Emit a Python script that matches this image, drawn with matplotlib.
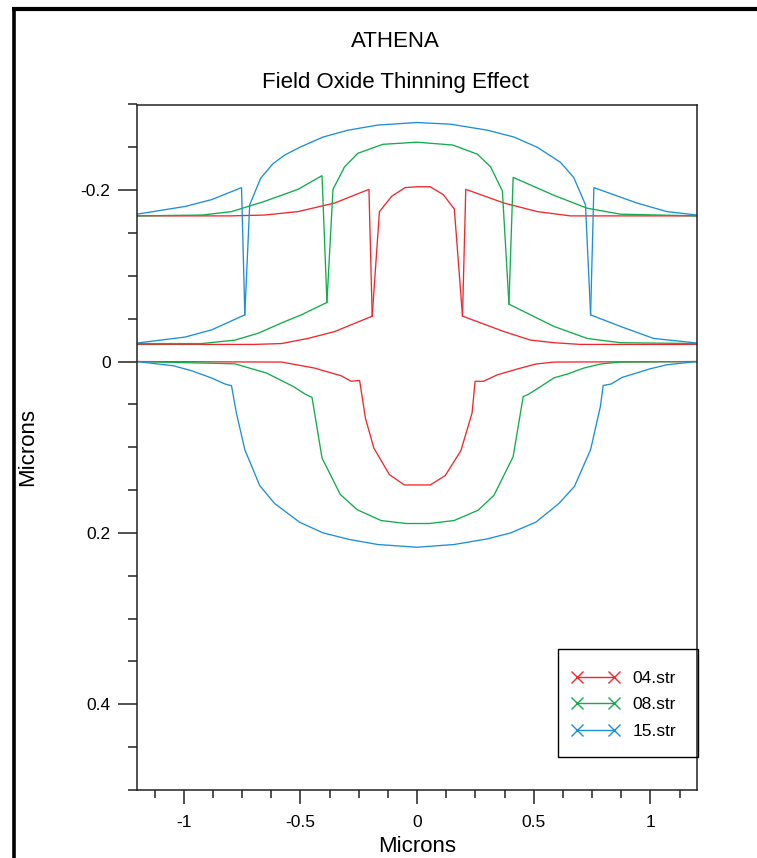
import matplotlib
matplotlib.use("Agg")
import matplotlib.pyplot as plt
from matplotlib.lines import Line2D
from matplotlib.patches import Rectangle
from matplotlib.ticker import MultipleLocator, FuncFormatter

plt.rcParams['font.family'] = ['Liberation Sans', 'DejaVu Sans']

# ---------------- data (microns) ----------------
labels = ["04.str", "08.str", "15.str"]
colors = ["#f0282d", "#10ad4a", "#1c8fd9"]

# 04.str
r_nitL_x = [-1.2, -0.8, -0.653, -0.51, -0.353, -0.206, -0.192, -0.353, -0.467, -0.581, -0.7, -1.2]
r_nitL_y = [-0.170, -0.170, -0.171, -0.175, -0.185, -0.201, -0.053, -0.035, -0.027, -0.021, -0.020, -0.020]
r_nitR_x = [1.2, 0.8, 0.658, 0.516, 0.373, 0.209, 0.195, 0.373, 0.487, 0.587, 0.7, 1.2]
r_nitR_y = [-0.170, -0.170, -0.170, -0.175, -0.185, -0.201, -0.053, -0.035, -0.025, -0.022, -0.020, -0.020]
r_oxtop_x = [-0.192, -0.161, -0.108, -0.051, 0.0, 0.056, 0.112, 0.160, 0.195]
r_oxtop_y = [-0.053, -0.175, -0.193, -0.203, -0.204, -0.204, -0.195, -0.178, -0.053]
r_si_x = [-1.2, -0.58, -0.439, -0.325, -0.282, -0.246, -0.221, -0.185, -0.118, -0.054, 0.057,
          0.121, 0.188, 0.236, 0.249, 0.285, 0.345, 0.430, 0.509, 0.587, 1.2]
r_si_y = [0.0, 0.0006, 0.0076, 0.0166, 0.023, 0.022, 0.066, 0.101, 0.132, 0.144, 0.144,
          0.133, 0.104, 0.060, 0.023, 0.023, 0.0154, 0.0087, 0.0029, 0.0006, 0.0]

# 08.str
g_nitL_x = [-1.2, -0.92, -0.795, -0.653, -0.51, -0.407, -0.386, -0.496, -0.581, -0.681, -0.781, -0.923, -1.2]
g_nitL_y = [-0.170, -0.171, -0.175, -0.187, -0.201, -0.217, -0.069, -0.0545, -0.045, -0.033, -0.025, -0.021, -0.021]
g_nitR_x = [1.2, 0.872, 0.729, 0.587, 0.412, 0.394, 0.587, 0.729, 0.872, 1.2]
g_nitR_y = [-0.170, -0.172, -0.179, -0.194, -0.215, -0.067, -0.041, -0.027, -0.022, -0.021]
g_oxtop_x = [-0.386, -0.360, -0.311, -0.254, -0.147, 0.0, 0.153, 0.259, 0.316, 0.366, 0.394]
g_oxtop_y = [-0.069, -0.201, -0.227, -0.243, -0.2535, -0.256, -0.2527, -0.242, -0.227, -0.199, -0.067]
g_si_x = [-1.2, -0.781, -0.645, -0.531, -0.479, -0.450, -0.407, -0.329, -0.256, -0.154, -0.047, 0.053,
          0.159, 0.262, 0.330, 0.412, 0.455, 0.479, 0.531, 0.587, 0.644, 0.715, 0.786, 0.87, 1.2]
g_si_y = [0.0, 0.0026, 0.0134, 0.029, 0.038, 0.0418, 0.1125, 0.155, 0.173, 0.1855, 0.189, 0.189,
          0.1855, 0.1735, 0.156, 0.111, 0.041, 0.038, 0.029, 0.019, 0.0146, 0.0076, 0.0029, 0.0006, 0.0]

# 15.str
b_nitL_x = [-1.2, -0.994, -0.88, -0.752, -0.738, -0.88, -0.994, -1.2]
b_nitL_y = [-0.172, -0.181, -0.189, -0.203, -0.0545, -0.037, -0.0286, -0.0216]
b_nitR_x = [1.2, 1.071, 0.943, 0.758, 0.744, 0.872, 1.014, 1.2]
b_nitR_y = [-0.171, -0.175, -0.185, -0.203, -0.0545, -0.041, -0.027, -0.0216]
b_oxtop_x = [-0.738, -0.717, -0.670, -0.617, -0.567, -0.503, -0.403, -0.296, -0.168, 0.0,
             0.145, 0.302, 0.416, 0.516, 0.615, 0.672, 0.722, 0.744]
b_oxtop_y = [-0.0545, -0.183, -0.214, -0.231, -0.241, -0.250, -0.262, -0.270, -0.276, -0.279,
             -0.277, -0.270, -0.262, -0.250, -0.2325, -0.2146, -0.183, -0.0545]
b_si_x = [-1.2, -1.044, -0.966, -0.88, -0.823, -0.795, -0.774, -0.738, -0.674, -0.610, -0.503,
          -0.403, -0.289, -0.168, 0.0, 0.159, 0.302, 0.402, 0.509, 0.608, 0.675, 0.744, 0.786,
          0.798, 0.832, 0.879, 1.0, 1.071, 1.2]
b_si_y = [0.0, 0.0049, 0.0107, 0.0192, 0.0262, 0.0282, 0.060, 0.1028, 0.1448, 0.1657, 0.1875,
          0.1999, 0.2077, 0.2135, 0.2167, 0.2135, 0.2069, 0.1999, 0.1875, 0.1657, 0.1456, 0.1028, 0.0523,
          0.0279, 0.0262, 0.0185, 0.0084, 0.0037, 0.0]

structures = [
    [(r_nitL_x, r_nitL_y), (r_nitR_x, r_nitR_y), (r_oxtop_x, r_oxtop_y), (r_si_x, r_si_y)],
    [(g_nitL_x, g_nitL_y), (g_nitR_x, g_nitR_y), (g_oxtop_x, g_oxtop_y), (g_si_x, g_si_y)],
    [(b_nitL_x, b_nitL_y), (b_nitR_x, b_nitR_y), (b_oxtop_x, b_oxtop_y), (b_si_x, b_si_y)],
]

# ---------------- figure ----------------
W, H = 757, 858
fig = plt.figure(figsize=(W / 100, H / 100), dpi=100)
ax = fig.add_axes([137 / W, 1 - 790 / H, 560 / W, (790 - 104.5) / H])

for polys, col in zip(structures, colors):
    for xs, ys in polys:
        ax.plot(xs, ys, color=col, lw=0.95, solid_joinstyle='miter')

ax.set_xlim(-1.2, 1.2)
ax.set_ylim(0.5, -0.3)

ax.xaxis.set_major_locator(MultipleLocator(0.5))
ax.xaxis.set_minor_locator(MultipleLocator(0.125))
ax.yaxis.set_major_locator(MultipleLocator(0.2))
ax.yaxis.set_minor_locator(MultipleLocator(0.05))
fmt = FuncFormatter(lambda v, p: "0" if abs(v) < 1e-9 else ("%g" % v))
ax.xaxis.set_major_formatter(fmt)
ax.yaxis.set_major_formatter(fmt)

for s in ax.spines.values():
    s.set_color("#222222")
    s.set_linewidth(1.1)

ax.tick_params(axis='y', which='major', direction='out', length=14, width=1.1, pad=5,
               labelsize=12.5, colors="#222222", labelcolor='black')
ax.tick_params(axis='y', which='minor', direction='out', length=6.5, width=1.1, colors="#222222")
ax.tick_params(axis='x', which='major', direction='out', length=10, width=1.1, pad=8,
               labelsize=12.5, colors="#222222", labelcolor='black')
ax.tick_params(axis='x', which='minor', direction='out', length=5.5, width=1.1, colors="#222222")

fig.text(395 / W, 1 - 46.7 / H, "ATHENA", ha='center', va='baseline', fontsize=16)
fig.text(395 / W, 1 - 88.3 / H, "Field Oxide Thinning Effect", ha='center', va='baseline', fontsize=16)
fig.text(417 / W, 1 - 852.5 / H, "Microns", ha='center', va='baseline', fontsize=16)
fig.text(28 / W, 1 - 447 / H, "Microns", ha='center', va='center', fontsize=16, rotation=90)

# legend (entries placed without frame, frame drawn as rectangle)
handles = [Line2D([], [], color=c, lw=1.0, marker='x', markersize=8, markeredgewidth=1.0)
           for c in colors]
leg = ax.legend(handles, labels, loc='upper left',
                bbox_to_anchor=(571.5 / W, 1 - 670.5 / H), bbox_transform=fig.transFigure,
                borderaxespad=0, borderpad=0, numpoints=2, fontsize=12.5, handlelength=2.77,
                handletextpad=0.76, labelspacing=0.66, frameon=False)
fig.add_artist(Rectangle((558.3 / W, 1 - 757.3 / H), 140 / W, 108 / H, transform=fig.transFigure,
                         facecolor='none', edgecolor='black', lw=1.0, zorder=5))

# outer frame (top and left)
fig.add_artist(Line2D([12 / W, 1.0], [1 - 9 / H, 1 - 9 / H], transform=fig.transFigure,
                      color='black', lw=3.0, solid_capstyle='butt'))
fig.add_artist(Line2D([13.5 / W, 13.5 / W], [0.0, 1 - 7.5 / H], transform=fig.transFigure,
                      color='black', lw=2.6, solid_capstyle='butt'))

fig.savefig("out.png", dpi=100)
